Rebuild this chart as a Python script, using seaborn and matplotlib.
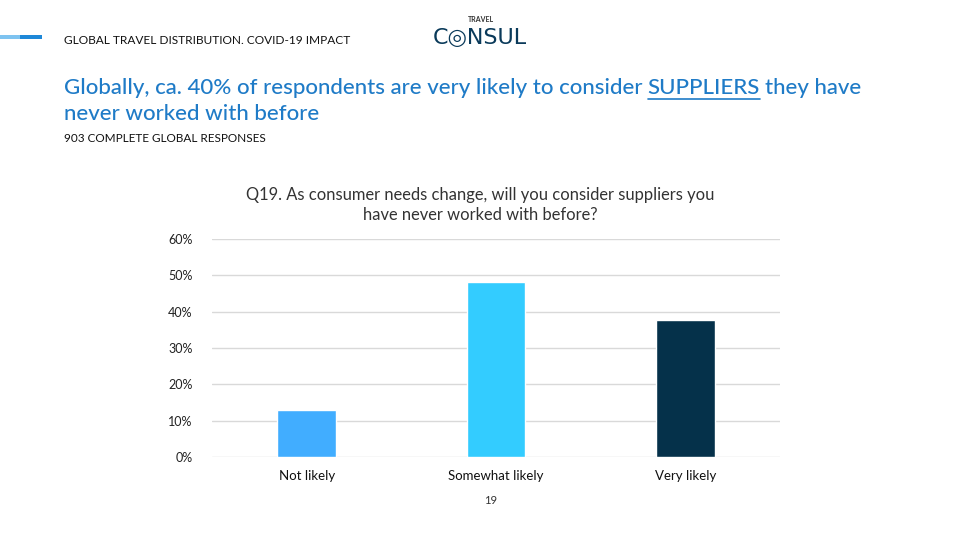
import matplotlib
matplotlib.use("Agg")
import matplotlib.pyplot as plt
import seaborn as sns
import pandas as pd
from matplotlib.lines import Line2D
from matplotlib.patches import Rectangle

categories = ["Not likely", "Somewhat likely", "Very likely"]
values = [12.9, 48.2, 37.8]
bar_colors = ["#41ADFF", "#33CCFF", "#05314A"]
yticks = [0, 10, 20, 30, 40, 50, 60]
ytick_labels = ["0%", "10%", "20%", "30%", "40%", "50%", "60%"]

sns.set_theme(style="white")
plt.rcParams['font.family'] = ['Lato', 'DejaVu Sans']

fig = plt.figure(figsize=(9.6, 5.4), dpi=100)
W, H = 960, 540

def fx(x):
    return x / W

def fy(y):
    return 1 - y / H

ax = fig.add_axes([fx(212), fy(457), fx(780) - fx(212), fy(239) - fy(457)])
df = pd.DataFrame({"cat": categories, "val": values})
sns.barplot(data=df, x="cat", y="val", hue="cat", palette=bar_colors,
            width=0.31, legend=False, ax=ax, saturation=1)
ax.set_xlim(-0.5, 2.5)
ax.set_ylim(0, 60)
ax.set_yticks(yticks)
ax.set_yticklabels(ytick_labels, fontsize=9, color="#222222")
ax.grid(axis="y", color="#D9D9D9", linewidth=1)
ax.set_axisbelow(True)
for s in ax.spines.values():
    s.set_visible(False)
ax.tick_params(axis="y", length=0, pad=14)
ax.tick_params(axis="x", length=0, pad=9, labelsize=9.5, labelcolor="#111111")
ax.set_xlabel("")
ax.set_ylabel("")
for lbl in ax.get_yticklabels():
    lbl.set_horizontalalignment("right")

# Chart title
fig.text(fx(480), fy(205), "Q19. As consumer needs change, will you consider suppliers you\nhave never worked with before?",
         ha="center", va="center", fontsize=11.9, color="#333333", linespacing=1.25)

# Header bar
fig.add_artist(Rectangle((0, fy(39)), fx(20), fy(35) - fy(39), transform=fig.transFigure,
                         color="#7EC3F0", lw=0))
fig.add_artist(Rectangle((fx(20), fy(39)), fx(22), fy(35) - fy(39), transform=fig.transFigure,
                         color="#1E88D8", lw=0))
fig.text(fx(64), fy(41), "GLOBAL TRAVEL DISTRIBUTION. COVID-19 IMPACT", ha="left", va="center",
         fontsize=8.6, color="#111111")

# Logo
fig.text(fx(481), fy(20), "TRAVEL", ha="center", va="center", fontsize=5, color="#333333",
         fontweight="bold")
fig.text(fx(480), fy(38), "C\u25CENSUL", ha="center", va="center", fontsize=16, color="#0A3A5A",
         family=["DejaVu Sans"])

# Headline
blue = "#1F7BC7"
hl_size = 16
hl_w = "medium"
t1 = fig.text(fx(64), fy(88), "Globally, ca. 40% of respondents are very likely to consider", ha="left",
              va="center", fontsize=hl_size, color=blue, fontweight=hl_w)
fig.canvas.draw()
r = fig.canvas.get_renderer()
bb = t1.get_window_extent(r)
t2 = fig.text(bb.x1 / W + fx(5), fy(88), "SUPPLIERS", ha="left", va="center", fontsize=hl_size,
              color=blue, fontweight=hl_w)
bb2 = t2.get_window_extent(r)
t3 = fig.text(bb2.x1 / W + fx(5), fy(88), "they have", ha="left", va="center", fontsize=hl_size,
              color=blue, fontweight=hl_w)
fig.add_artist(Line2D([bb2.x0 / W, bb2.x1 / W], [fy(99), fy(99)], transform=fig.transFigure,
                      color=blue, lw=1.2))
fig.text(fx(64), fy(114), "never worked with before", ha="left", va="center", fontsize=hl_size,
         color=blue, fontweight=hl_w)

fig.text(fx(64), fy(138), "903 COMPLETE GLOBAL RESPONSES", ha="left", va="center", fontsize=8.5,
         color="#111111")

fig.text(fx(491), fy(501), "19", ha="center", va="center", fontsize=8, color="#333333")

fig.savefig("out.png", dpi=100)
